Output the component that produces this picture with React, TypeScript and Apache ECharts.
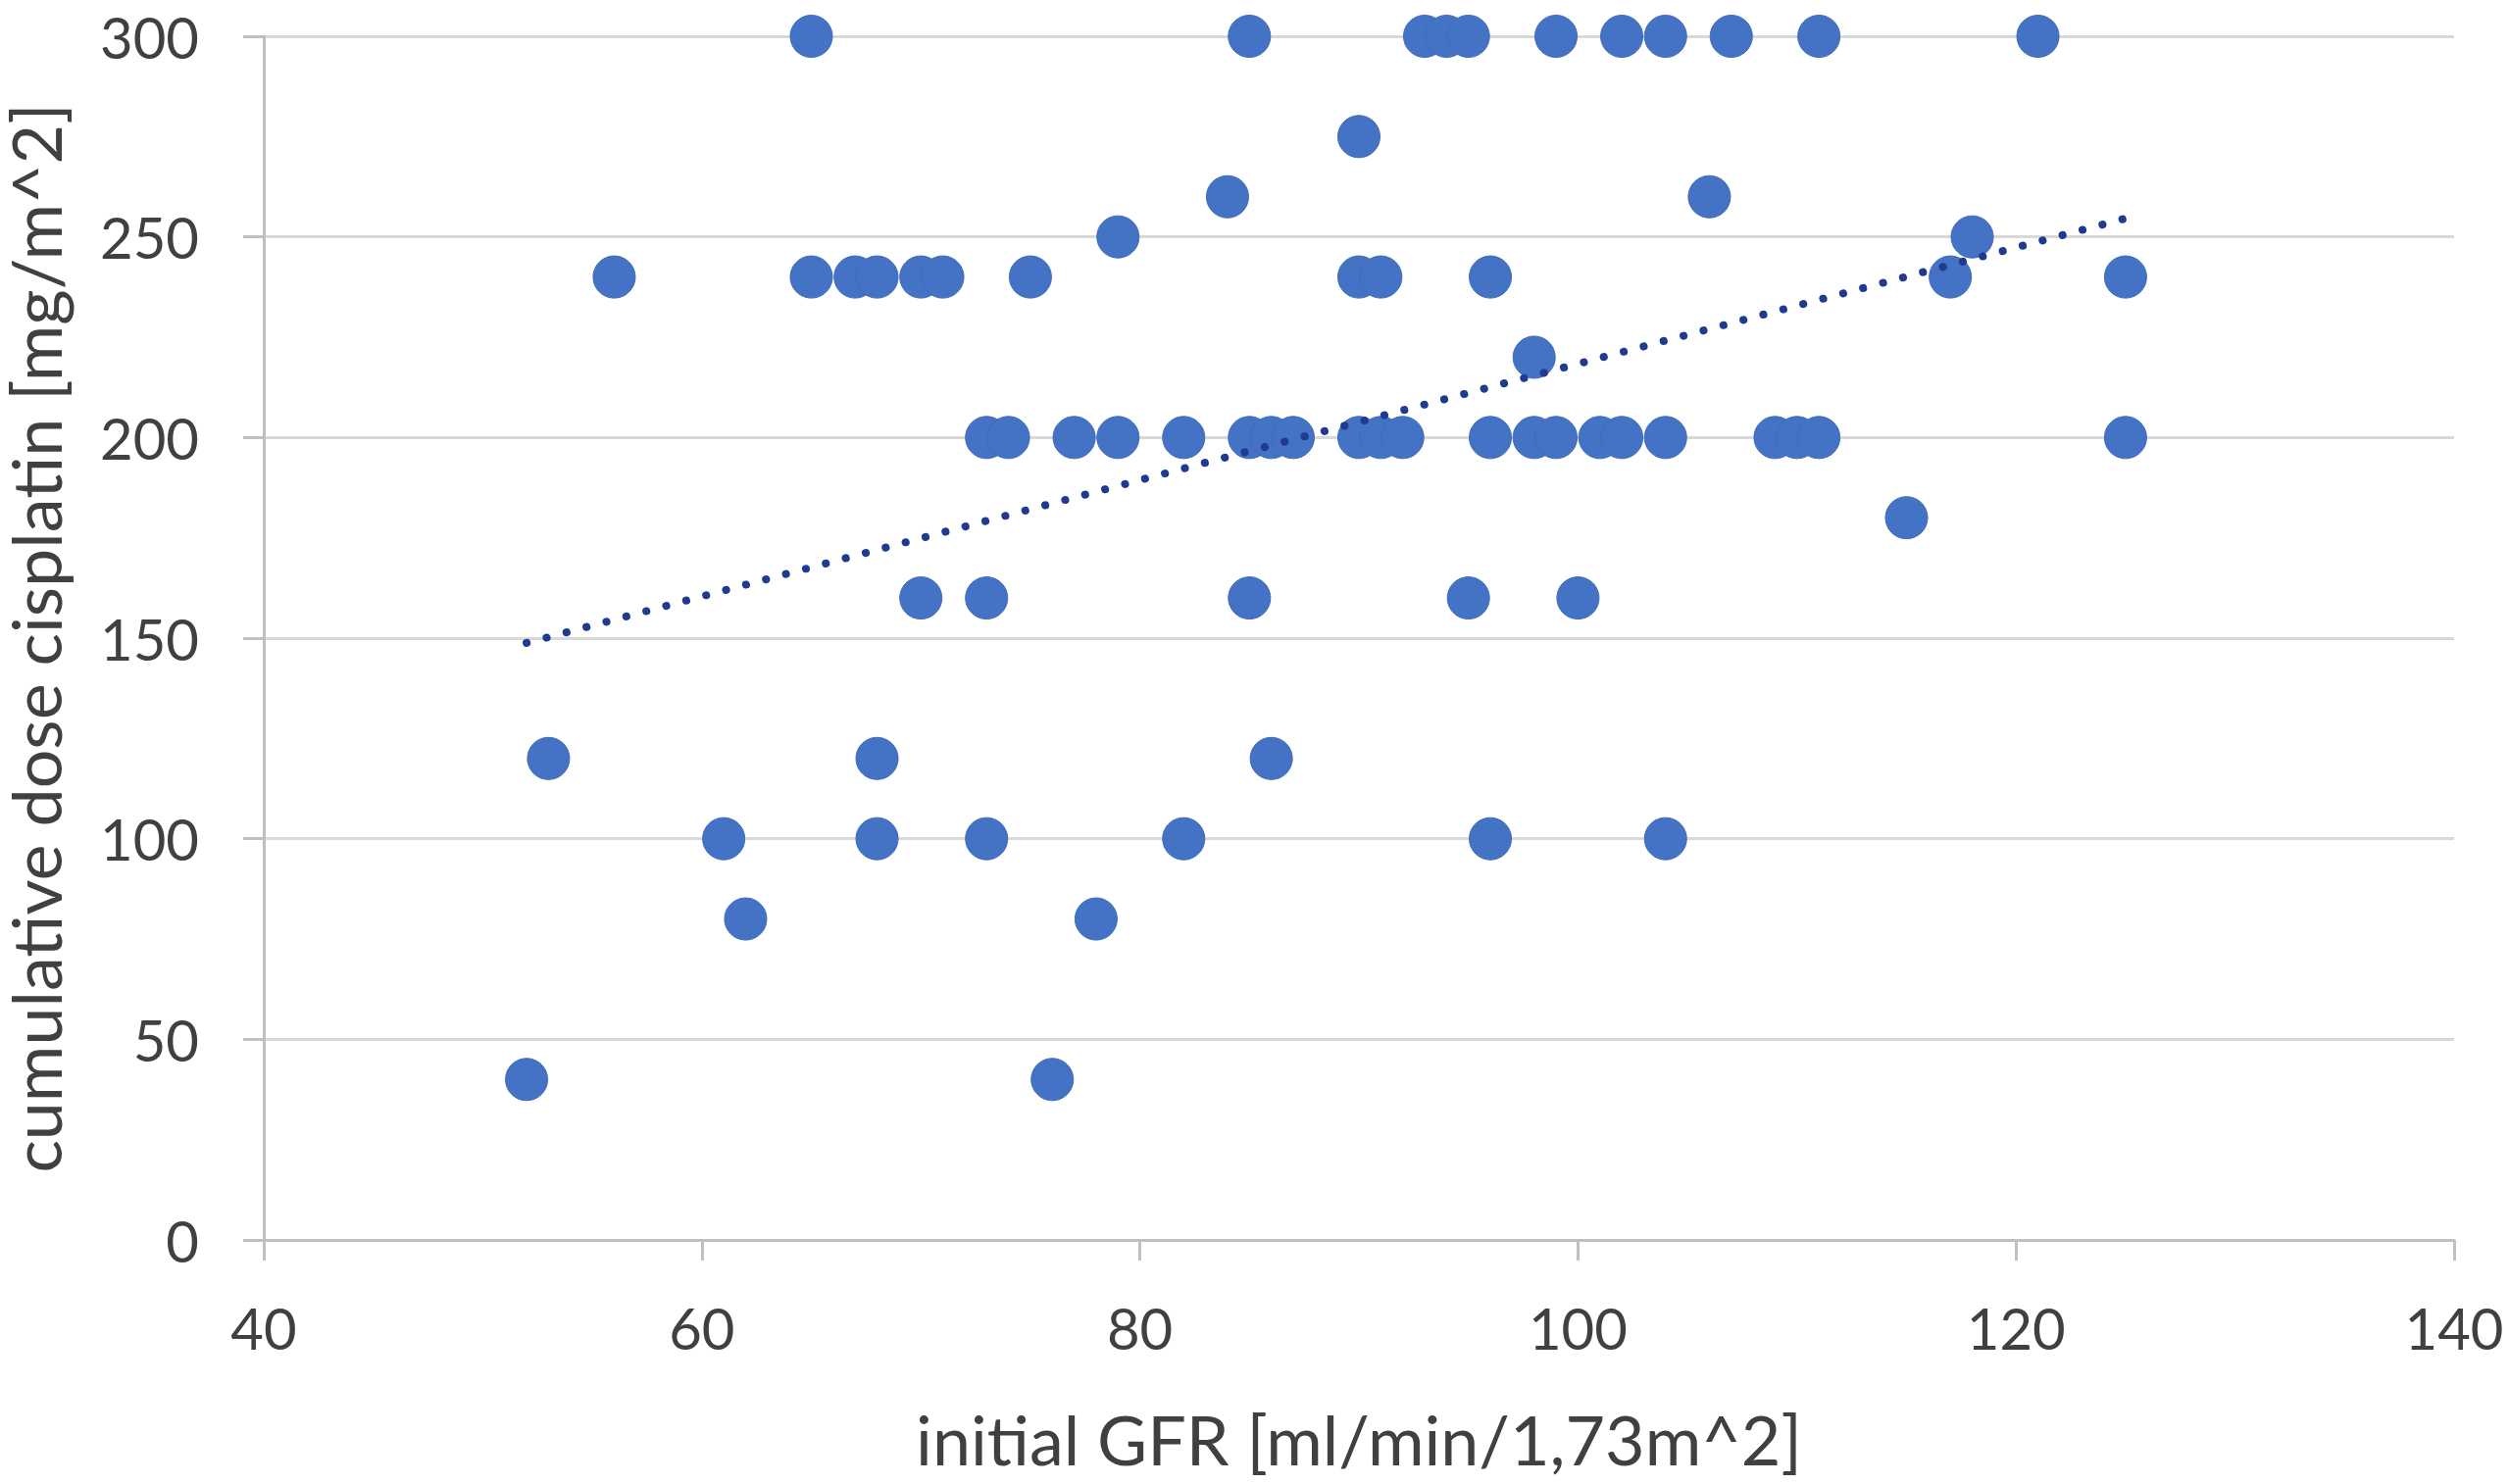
import React, { useEffect, useRef } from "react";
import * as echarts from "echarts";

// Scatter data: [initial GFR, cumulative dose]
const gfr300 = [65, 85, 93, 94, 95, 99, 102, 104, 107, 111, 121];
const gfr275 = [90];
const gfr260 = [84, 106];
const gfr250 = [79, 118];
const gfr240 = [56, 65, 67, 68, 70, 71, 75, 90, 91, 96, 117, 125];
const gfr220 = [98];
const gfr200 = [73, 74, 77, 79, 82, 85, 86, 87, 90, 91, 92, 96, 98, 99, 101, 102, 104, 109, 110, 111, 125];
const gfr180 = [115];
const gfr160 = [70, 73, 85, 95, 100];
const gfr120 = [53, 68, 86];
const gfr100 = [61, 68, 73, 82, 96, 104];
const gfr80 = [62, 78];
const gfr40 = [52, 76];

const doseLevels = [300, 275, 260, 250, 240, 220, 200, 180, 160, 120, 100, 80, 40];
const gfrByLevel = [gfr300, gfr275, gfr260, gfr250, gfr240, gfr220, gfr200, gfr180, gfr160, gfr120, gfr100, gfr80, gfr40];

// Linear trendline end points
const trendX = [52, 125];
const trendY = [148.8, 254.6];

const xTitle = "initial GFR [ml/min/1,73m^2]";
const yTitle = "cumulative dose cisplatin [mg/m^2]";

export default function App() {
  const ref = useRef<HTMLDivElement>(null);
  useEffect(() => {
    if (!ref.current) return;
    const chart = echarts.init(ref.current, undefined, { renderer: "svg" });
    const points: number[][] = [];
    doseLevels.forEach((d, i) => gfrByLevel[i].forEach((g) => points.push([g, d])));
    const trend = trendX.map((x, i) => [x, trendY[i]]);
    const font = "Lato";
    const textColor = "#404040";
    chart.setOption({
      animation: false,
      backgroundColor: "#ffffff",
      grid: { left: 269, right: 56, top: 37, bottom: 249, containLabel: false, outerBoundsMode: "none" },
      xAxis: {
        type: "value",
        min: 40,
        max: 140,
        interval: 20,
        name: xTitle,
        nameLocation: "middle",
        nameGap: 168,
        nameTextStyle: { fontFamily: font, fontSize: 70, color: textColor },
        axisLine: { show: true, lineStyle: { color: "#BFBFBF", width: 3 } },
        axisTick: { show: true, length: 21, lineStyle: { color: "#BFBFBF", width: 3 } },
        axisLabel: { fontFamily: font, fontSize: 58, color: textColor, margin: 60 },
        splitLine: { show: false },
      },
      yAxis: {
        type: "value",
        min: 0,
        max: 300,
        interval: 50,
        name: yTitle,
        nameLocation: "middle",
        nameGap: 198,
        nameTextStyle: { fontFamily: font, fontSize: 70, color: textColor },
        axisLine: { show: true, lineStyle: { color: "#BFBFBF", width: 3 } },
        axisTick: { show: true, length: 21, lineStyle: { color: "#BFBFBF", width: 3 } },
        axisLabel: { fontFamily: font, fontSize: 58, color: textColor, margin: 66 },
        splitLine: { show: true, lineStyle: { color: "#D9D9D9", width: 3 } },
      },
      series: [
        {
          type: "scatter",
          data: points,
          symbol: "circle",
          symbolSize: 43,
          itemStyle: { color: "#4472C4", opacity: 1, borderColor: "#3F6BBA", borderWidth: 1 },
        },
        {
          type: "line",
          data: trend,
          symbol: "none",
          lineStyle: { color: "#1F3A8F", width: 8, type: [0.1, 20.95], cap: "round" },
          z: 3,
        },
      ],
    });
    return () => chart.dispose();
  }, []);
  return (
    <div
      ref={ref}
      style={{ position: "fixed", left: 0, top: 0, width: "2559px", height: "1514px", background: "#fff" }}
    />
  );
}
